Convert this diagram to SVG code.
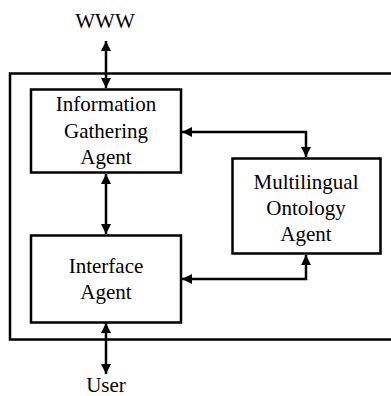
<svg xmlns="http://www.w3.org/2000/svg" width="391" height="396" viewBox="0 0 391 396">
  <style>
    .box { fill: #fff; stroke: #000; stroke-width: 2.5; }
    .frame { fill: none; stroke: #000; stroke-width: 2.5; }
    .link { fill: none; stroke: #000; stroke-width: 2.5; }
    text { font-family: "Liberation Serif", "Times New Roman", serif; font-size: 21px; fill: #000; text-anchor: middle; }
  </style>
  <defs>
    <marker id="head" viewBox="0 0 10 10" refX="10" refY="5" markerWidth="10" markerHeight="10" markerUnits="userSpaceOnUse" orient="auto-start-reverse">
      <path d="M0,0 L10,5 L0,10 Z" fill="#000"/>
    </marker>
  </defs>

  <!-- system boundary -->
  <rect class="frame" x="10" y="73.5" width="400" height="266"/>

  <g id="connectors">
    <line class="link" x1="106" y1="41" x2="106" y2="88" marker-start="url(#head)" marker-end="url(#head)"/>
    <line class="link" x1="106" y1="174" x2="106" y2="234" marker-start="url(#head)" marker-end="url(#head)"/>
    <polyline class="link" points="182,132 306,132 306,157" marker-start="url(#head)" marker-end="url(#head)"/>
    <polyline class="link" points="182,279 306,279 306,255" marker-start="url(#head)" marker-end="url(#head)"/>
    <line class="link" x1="106" y1="323" x2="106" y2="374" marker-start="url(#head)" marker-end="url(#head)"/>
  </g>

  <g id="www">
    <text x="105" y="28">WWW</text>
  </g>

  <g id="information-gathering-agent">
    <rect class="box" x="31" y="89.5" width="150" height="83"/>
    <text x="106" y="111">Information</text>
    <text x="106" y="138">Gathering</text>
    <text x="106" y="164">Agent</text>
  </g>

  <g id="multilingual-ontology-agent">
    <rect class="box" x="232.5" y="158.5" width="148" height="95"/>
    <text x="306" y="189">Multilingual</text>
    <text x="306" y="215">Ontology</text>
    <text x="306" y="241">Agent</text>
  </g>

  <g id="interface-agent">
    <rect class="box" x="31" y="235.5" width="150" height="87"/>
    <text x="106" y="273">Interface</text>
    <text x="106" y="299">Agent</text>
  </g>

  <g id="user">
    <text x="106" y="392">User</text>
  </g>
</svg>
